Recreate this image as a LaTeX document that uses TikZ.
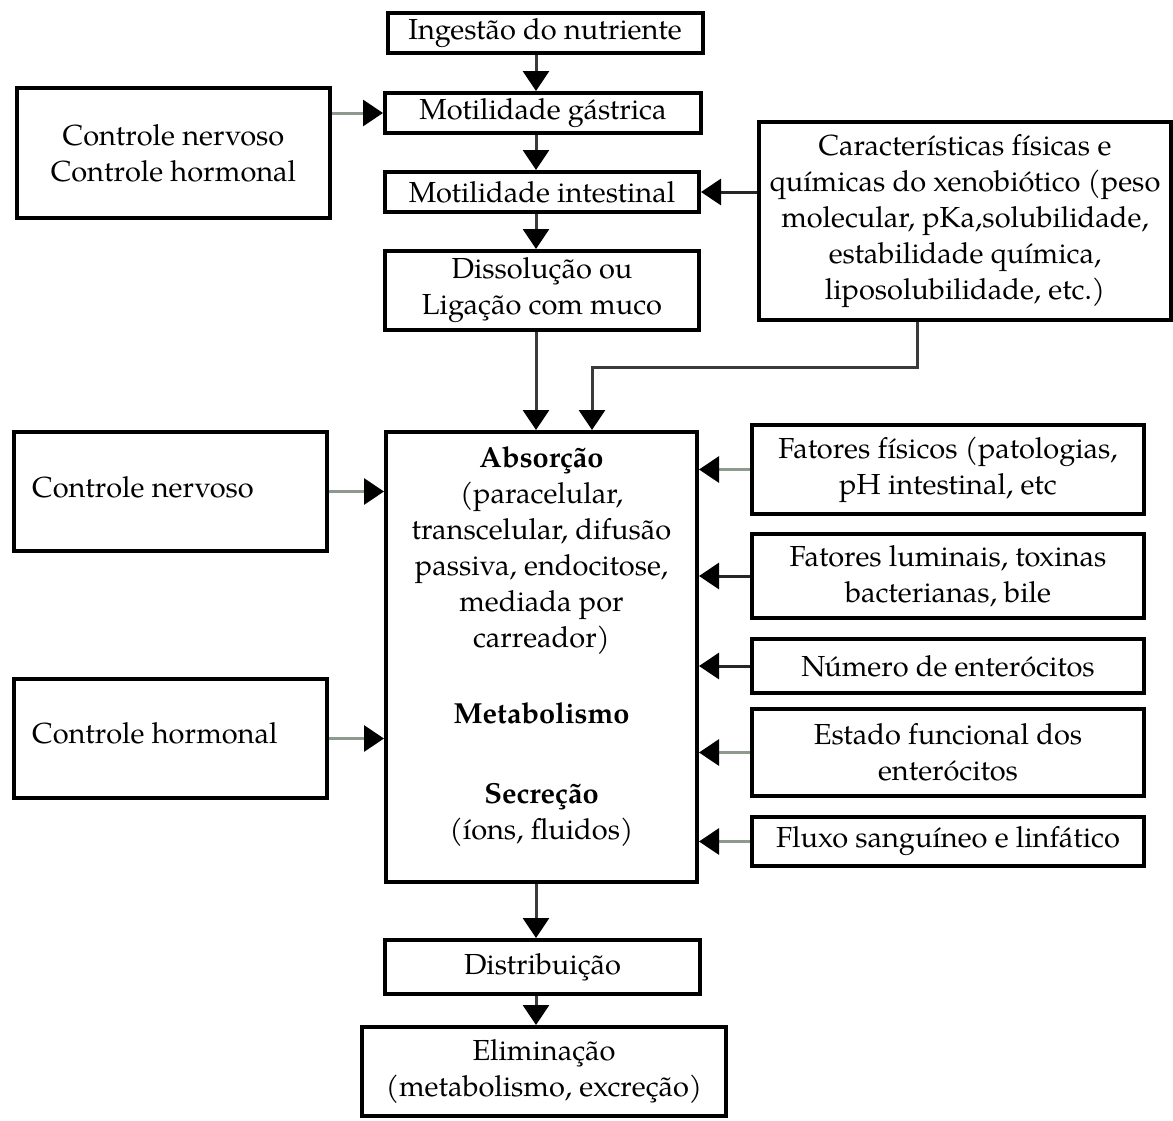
\documentclass[tikz,border=0pt]{standalone}
\usepackage{fontspec}
\setmainfont{TeX Gyre Pagella}
\usetikzlibrary{arrows.meta}
\definecolor{lgray}{HTML}{8E9A8E}
\definecolor{dgray}{HTML}{3A3A3A}
\begin{document}
\begin{tikzpicture}[x=1pt,y=-1pt,
  box/.style={draw=black,line width=4pt,inner sep=0pt,align=center,
    font=\fontsize{29}{36}\selectfont},
  txt/.style={inner sep=0pt,align=center,font=\fontsize{29}{36}\selectfont},
  arr/.style={line width=3pt,-{Triangle[length=20pt,width=26pt,color=black]}},
  gl/.style={arr,draw=lgray},
  dl/.style={arr,draw=dgray},
  bl/.style={arr,draw=black!85}]
\fill[white] (0,0) rectangle (1173,1120);
\useasboundingbox (0,0) rectangle (1173,1120);

% main column
\node[box,minimum width=315pt,minimum height=40pt] (ing) at (545,33) {Ingestão do nutriente};
\node[box,minimum width=316pt,minimum height=40pt] (gas) at (543,113) {Motilidade gástrica};
\node[box,minimum width=314pt,minimum height=40pt] (int) at (542,192) {Motilidade intestinal};
\node[box,minimum width=314pt,minimum height=79pt] (dis) at (542,290.5) {Dissolução ou\\Ligação com muco};
\node[box,minimum width=311pt,minimum height=450pt] (abs) at (541.5,657) {};
\node[box,minimum width=315pt,minimum height=54pt] (dist) at (542.5,967) {Distribuição};
\node[box,minimum width=364pt,minimum height=89pt] (elim) at (544,1071.5) {Eliminação\\(metabolismo, excreção)};

% text inside absorption box
\node[txt] (absT) at (541.5,551) {\textbf{Absorção}\\(paracelular,\\transcelular, difusão\\passiva, endocitose,\\mediada por\\carreador)};
\node[txt] (metT) at (541.5,713) {\textbf{Metabolismo}};
\node[txt] (secT) at (541.5,815) {\textbf{Secreção}\\(íons, fluidos)};

% left boxes
\node[box,minimum width=313pt,minimum height=130pt] (ctl) at (173.5,153) {Controle nervoso\\Controle hormonal};
\node[box,minimum width=313pt,minimum height=119pt] (cn) at (170.5,491.5) {};
\node[txt,anchor=west] (cnT) at (32,487) {Controle nervoso};
\node[box,minimum width=313pt,minimum height=119pt] (ch) at (170.5,738.5) {};
\node[txt,anchor=west] (chT) at (32,733) {Controle hormonal};

% right boxes
\node[box,minimum width=412pt,minimum height=198pt] (car) at (965,221) {Características físicas e\\químicas do xenobiótico (peso\\molecular, pKa,solubilidade,\\estabilidade química,\\liposolubilidade, etc.)};
\node[box,minimum width=392pt,minimum height=89pt] (f1) at (948,469.5) {Fatores físicos (patologias,\\pH intestinal, etc};
\node[box,minimum width=392pt,minimum height=84pt] (f2) at (948,576) {Fatores luminais, toxinas\\bacterianas, bile};
\node[box,minimum width=392pt,minimum height=54pt] (f3) at (948,666) {Número de enterócitos};
\node[box,minimum width=392pt,minimum height=87pt] (f4) at (948,752.5) {Estado funcional dos\\enterócitos};
\node[box,minimum width=392pt,minimum height=49pt] (f5) at (948,841.5) {Fluxo sanguíneo e linfático};

% helper coordinates
\coordinate (ax) at (536,0);
\coordinate (bx) at (592,0);
\coordinate (cx) at (917,0);
\coordinate (cy) at (0,367);

% vertical arrows
\draw[dl] (ing.south -| ax) -- (gas.north -| ax);
\draw[dl] (gas.south -| ax) -- (int.north -| ax);
\draw[dl] (int.south -| ax) -- (dis.north -| ax);
\draw[dl] (dis.south -| ax) -- (abs.north -| ax);
\draw[dl] (abs.south -| ax) -- (dist.north -| ax);
\draw[dl] (dist.south -| ax) -- (elim.north -| ax);
\draw[dl] (car.south -| cx) -- (cx |- cy) -- (bx |- cy) -- (abs.north -| bx);

% horizontal arrows
\draw[gl] (ctl.east |- gas.west) -- (gas.west);
\draw[bl] (car.west |- int.east) -- (int.east);
\draw[gl] (cn.east) -- (cn.east -| abs.west);
\draw[gl] (ch.east) -- (ch.east -| abs.west);
\draw[gl] (f1.west) -- (f1.west -| abs.east);
\draw[bl] (f2.west) -- (f2.west -| abs.east);
\draw[bl] (f3.west) -- (f3.west -| abs.east);
\draw[gl] (f4.west) -- (f4.west -| abs.east);
\draw[gl] (f5.west) -- (f5.west -| abs.east);
\end{tikzpicture}
\end{document}
